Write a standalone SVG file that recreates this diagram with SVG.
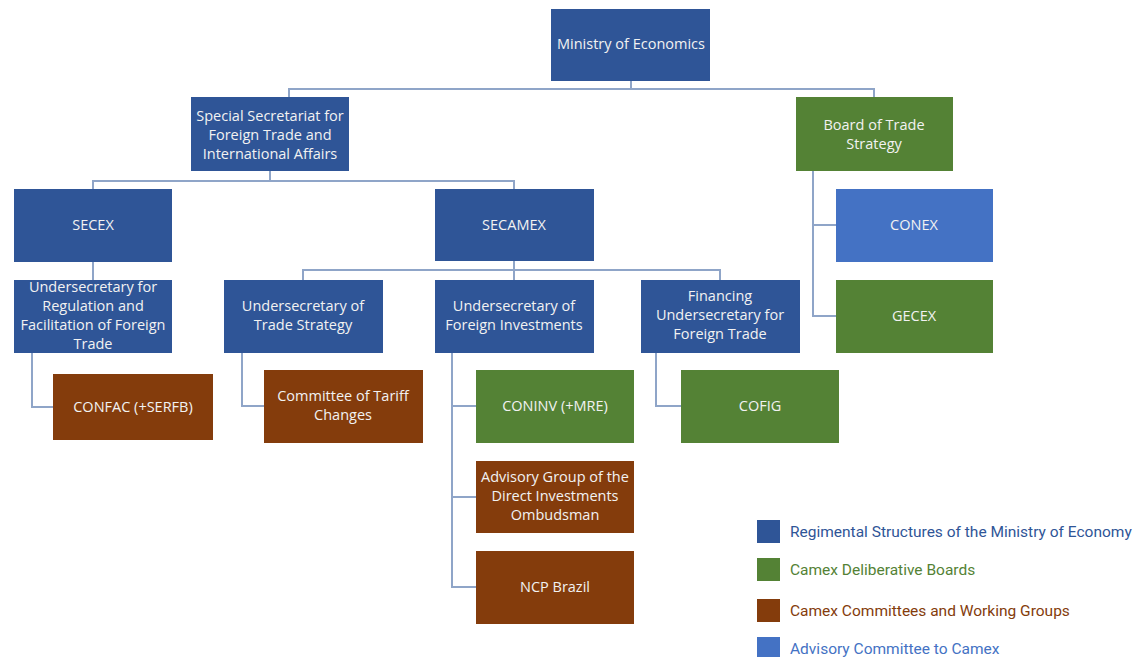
<svg xmlns="http://www.w3.org/2000/svg" width="1137" height="657" viewBox="0 0 1137 657">
<style>
.b{fill:#2F5597}.g{fill:#548235}.r{fill:#843C0C}.l{fill:#4472C4}
.t{font-family:"Open Sans","Liberation Sans",sans-serif;font-size:14.5px;fill:#F2F2F2;text-anchor:middle}
.c{fill:none;stroke:#8FA5C8;stroke-width:2}
.lg{font-family:Roboto,"Liberation Sans",sans-serif;font-size:15.5px}
</style>
<rect width="1137" height="657" fill="#fff"/>
<g id="connectors" class="c">
<path d="M631 81V89M289 97V89H874V97"/>
<path d="M270 171V181M93 189V181H514V189"/>
<path d="M93 262V280"/>
<path d="M514 261V270M303 280V270H720V280M514 270V280"/>
<path d="M813 171V316H836M813 225H836"/>
<path d="M32 353V407H53"/>
<path d="M242 353V406H264"/>
<path d="M452 353V587H476M452 406H476M452 497H476"/>
<path d="M656 353V406H681"/>
</g>
<g id="ministry"><rect class="b" x="551" y="9" width="159" height="72"/><text class="t" x="631" y="49">Ministry of Economics</text></g>
<g id="special-secretariat"><rect class="b" x="191" y="97" width="158" height="74"/><text class="t" x="270" y="121">Special Secretariat for</text><text class="t" x="270" y="140">Foreign Trade and</text><text class="t" x="270" y="159">International Affairs</text></g>
<g id="board"><rect class="g" x="796" y="97" width="157" height="74"/><text class="t" x="874" y="130">Board of Trade</text><text class="t" x="874" y="149">Strategy</text></g>
<g id="secex"><rect class="b" x="14" y="189" width="158" height="73"/><text class="t" x="93" y="230">SECEX</text></g>
<g id="secamex"><rect class="b" x="435" y="189" width="159" height="72"/><text class="t" x="514" y="230">SECAMEX</text></g>
<g id="conex"><rect class="l" x="836" y="189" width="157" height="73"/><text class="t" x="914" y="230">CONEX</text></g>
<g id="undersec-reg"><rect class="b" x="14" y="280" width="158" height="73"/><text class="t" x="93" y="292">Undersecretary for</text><text class="t" x="93" y="311">Regulation and</text><text class="t" x="93" y="330">Facilitation of Foreign</text><text class="t" x="93" y="349">Trade</text></g>
<g id="undersec-trade"><rect class="b" x="224" y="280" width="159" height="73"/><text class="t" x="303" y="311">Undersecretary of</text><text class="t" x="303" y="330">Trade Strategy</text></g>
<g id="undersec-inv"><rect class="b" x="435" y="280" width="159" height="73"/><text class="t" x="514" y="311">Undersecretary of</text><text class="t" x="514" y="330">Foreign Investments</text></g>
<g id="undersec-fin"><rect class="b" x="641" y="280" width="159" height="73"/><text class="t" x="720" y="301">Financing</text><text class="t" x="720" y="320">Undersecretary for</text><text class="t" x="720" y="339">Foreign Trade</text></g>
<g id="gecex"><rect class="g" x="836" y="280" width="157" height="73"/><text class="t" x="914" y="321">GECEX</text></g>
<g id="confac"><rect class="r" x="53" y="374" width="160" height="66"/><text class="t" x="133" y="412">CONFAC (+SERFB)</text></g>
<g id="tariff"><rect class="r" x="264" y="370" width="159" height="73"/><text class="t" x="343" y="401">Committee of Tariff</text><text class="t" x="343" y="420">Changes</text></g>
<g id="coninv"><rect class="g" x="476" y="370" width="158" height="73"/><text class="t" x="555" y="411">CONINV (+MRE)</text></g>
<g id="cofig"><rect class="g" x="681" y="370" width="158" height="73"/><text class="t" x="760" y="411">COFIG</text></g>
<g id="advisory-group"><rect class="r" x="476" y="461" width="158" height="72"/><text class="t" x="555" y="482">Advisory Group of the</text><text class="t" x="555" y="501">Direct Investments</text><text class="t" x="555" y="520">Ombudsman</text></g>
<g id="ncp"><rect class="r" x="476" y="551" width="158" height="73"/><text class="t" x="555" y="592">NCP Brazil</text></g>
<g id="legend">
<rect class="b" x="757" y="520" width="23" height="23"/><text class="lg" x="790" y="537" fill="#2F5597">Regimental Structures of the Ministry of Economy</text>
<rect class="g" x="757" y="558" width="23" height="23"/><text class="lg" x="790" y="575" fill="#548235">Camex Deliberative Boards</text>
<rect class="r" x="757" y="599" width="23" height="23"/><text class="lg" x="790" y="616" fill="#843C0C">Camex Committees and Working Groups</text>
<rect class="l" x="757" y="637" width="23" height="23"/><text class="lg" x="790" y="654" fill="#4472C4">Advisory Committee to Camex</text>
</g>
</svg>
